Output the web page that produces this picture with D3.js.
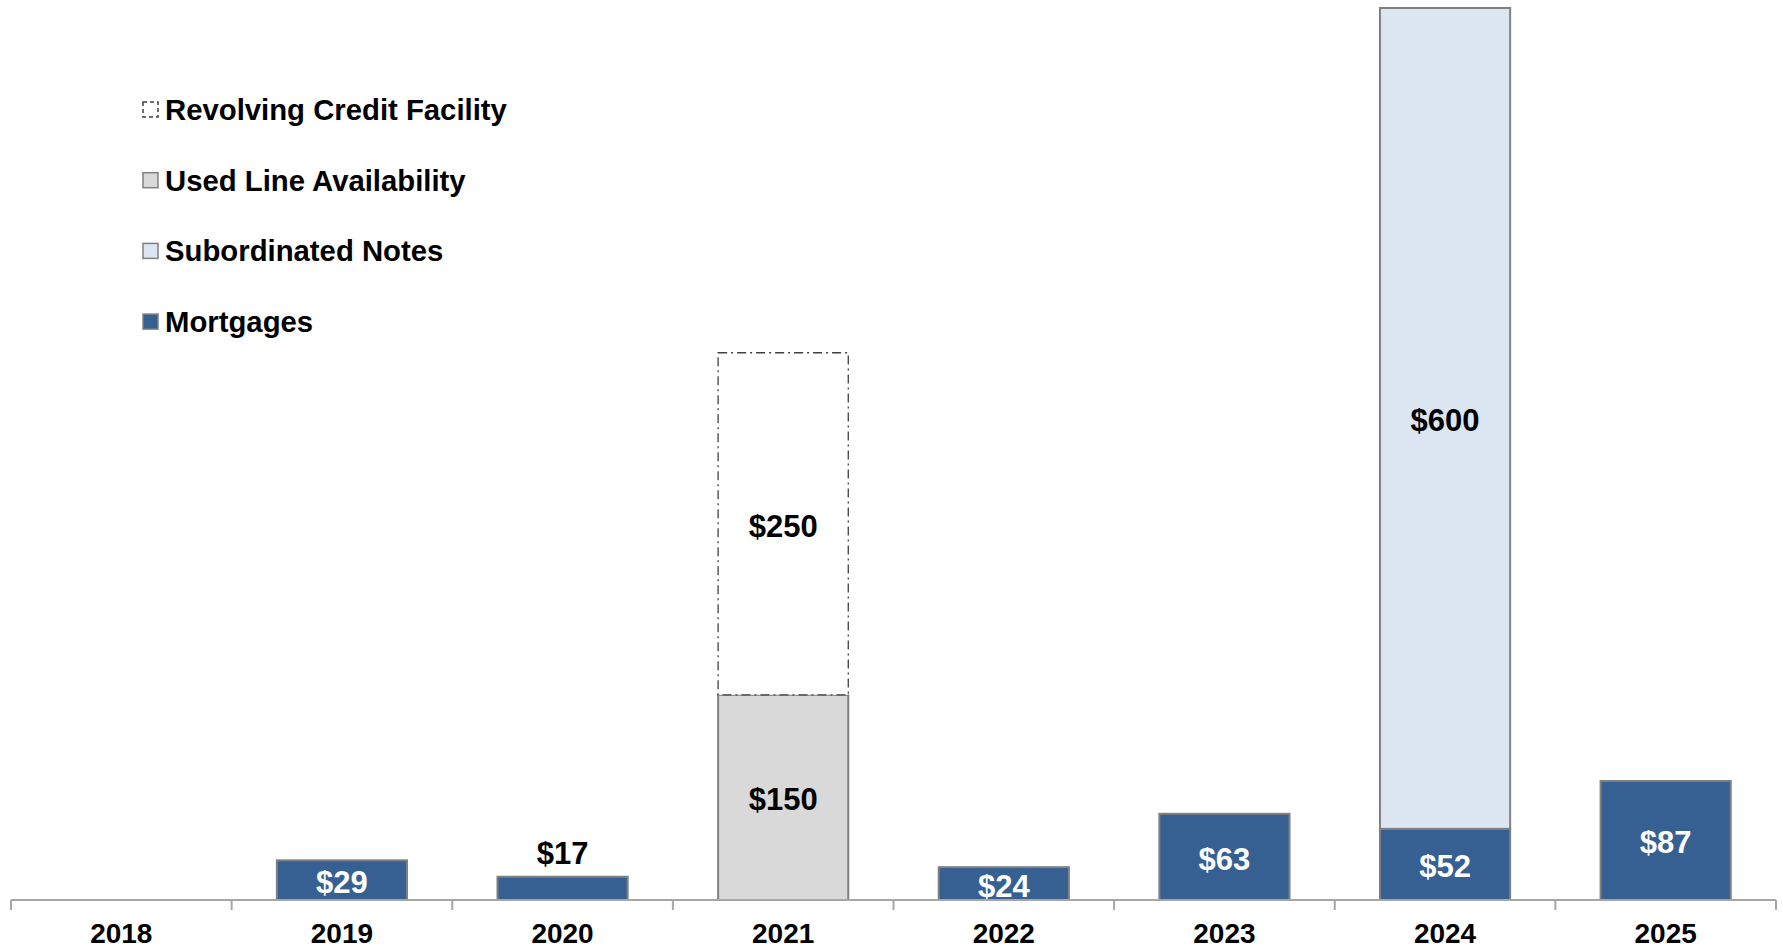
<!DOCTYPE html>
<html>
<head>
<meta charset="utf-8">
<script src="https://cdn.jsdelivr.net/npm/d3@7"></script>
<style>
  body { margin: 0; background: #fff; }
  text { font-family: Arial, "Liberation Sans", sans-serif; font-weight: bold; }
</style>
</head>
<body>
<script>
const years = ['2018', '2019', '2020', '2021', '2022', '2023', '2024', '2025'];
const mortgages = [0, 29, 17, 0, 24, 63, 52, 87];
const subordinatedNotes = [0, 0, 0, 0, 0, 0, 600, 0];
const usedLine = [0, 0, 0, 150, 0, 0, 0, 0];
const revolving = [0, 0, 0, 250, 0, 0, 0, 0];

const seriesNames = ['Mortgages', 'Subordinated Notes', 'Used Line Availability', 'Revolving Credit Facility'];
const seriesKeys = ['mort', 'sub', 'used', 'rev'];

const width = 1783,
  height = 949;

const fills = { mort: '#376092', sub: '#dce6f2', used: '#d9d9d9', rev: '#ffffff' };

const rows = years.map((y, i) => ({
  year: y,
  mort: mortgages[i],
  sub: subordinatedNotes[i],
  used: usedLine[i],
  rev: revolving[i]
}));

const svg = d3
  .select('body')
  .append('svg')
  .attr('width', width)
  .attr('height', height);

const x = d3
  .scaleBand()
  .domain(years)
  .range([11, 1776])
  .paddingInner(0.41)
  .paddingOuter(0.205);

const y = d3.scaleLinear().domain([0, 652]).range([900, 8]);

const stacked = d3.stack().keys(seriesKeys)(rows);

const layers = svg
  .selectAll('.layer')
  .data(stacked)
  .enter()
  .append('g')
  .attr('class', 'layer');

layers
  .selectAll('rect')
  .data(d => d.map(v => ({ key: d.key, v })).filter(e => e.v[1] - e.v[0] > 0))
  .enter()
  .append('rect')
  .attr('x', d => x(d.v.data.year))
  .attr('y', d => y(d.v[1]))
  .attr('width', x.bandwidth())
  .attr('height', d => y(d.v[0]) - y(d.v[1]))
  .style('fill', d => fills[d.key])
  .style('stroke', d => (d.key === 'rev' ? '#404040' : '#808080'))
  .style('stroke-width', d => (d.key === 'rev' ? '1.3px' : '2px'))
  .style('stroke-dasharray', d => (d.key === 'rev' ? '9,4,2,4' : null));

// value labels
layers
  .selectAll('.val')
  .data(d => d.map(v => ({ key: d.key, v })).filter(e => e.v[1] - e.v[0] > 0))
  .enter()
  .append('text')
  .attr('class', 'val')
  .attr('x', d => x(d.v.data.year) + x.bandwidth() / 2)
  .attr('y', d => {
    const h = y(d.v[0]) - y(d.v[1]);
    if (h < 30) return y(d.v[1]) - 13;
    return (y(d.v[0]) + y(d.v[1])) / 2 + 13;
  })
  .attr('text-anchor', 'middle')
  .style('font-size', '31px')
  .style('fill', d => {
    const h = y(d.v[0]) - y(d.v[1]);
    return d.key === 'mort' && h >= 30 ? '#ffffff' : '#000000';
  })
  .text(d => '$' + (d.v[1] - d.v[0]));

// axis
const step = x.step();
svg
  .append('line')
  .attr('x1', 11)
  .attr('x2', 1776)
  .attr('y1', 900)
  .attr('y2', 900)
  .style('stroke', '#a6a6a6')
  .style('stroke-width', '2px');

svg
  .selectAll('.tick')
  .data(d3.range(years.length + 1))
  .enter()
  .append('line')
  .attr('class', 'tick')
  .attr('x1', i => 11 + i * step)
  .attr('x2', i => 11 + i * step)
  .attr('y1', 900)
  .attr('y2', 910)
  .style('stroke', '#a6a6a6')
  .style('stroke-width', '2px');

svg
  .selectAll('.year')
  .data(years)
  .enter()
  .append('text')
  .attr('class', 'year')
  .attr('x', d => x(d) + x.bandwidth() / 2)
  .attr('y', 943)
  .attr('text-anchor', 'middle')
  .style('font-size', '28px')
  .style('fill', '#000')
  .text(d => d);

// legend
const legendOrder = ['rev', 'used', 'sub', 'mort'];
const legend = svg
  .selectAll('.legend')
  .data(legendOrder)
  .enter()
  .append('g')
  .attr('class', 'legend')
  .attr('transform', (d, i) => `translate(143, ${110 + i * 70.7})`);

legend
  .append('rect')
  .attr('x', 0)
  .attr('y', -8)
  .attr('width', 15)
  .attr('height', 15)
  .style('fill', d => fills[d])
  .style('stroke', d => (d === 'rev' ? '#404040' : '#808080'))
  .style('stroke-width', '1.5px')
  .style('stroke-dasharray', d => (d === 'rev' ? '4,3' : null));

legend
  .append('text')
  .attr('x', 22)
  .attr('y', 10)
  .style('font-size', '29.3px')
  .style('fill', '#000')
  .text(d => seriesNames[seriesKeys.indexOf(d)]);
</script>
</body>
</html>
